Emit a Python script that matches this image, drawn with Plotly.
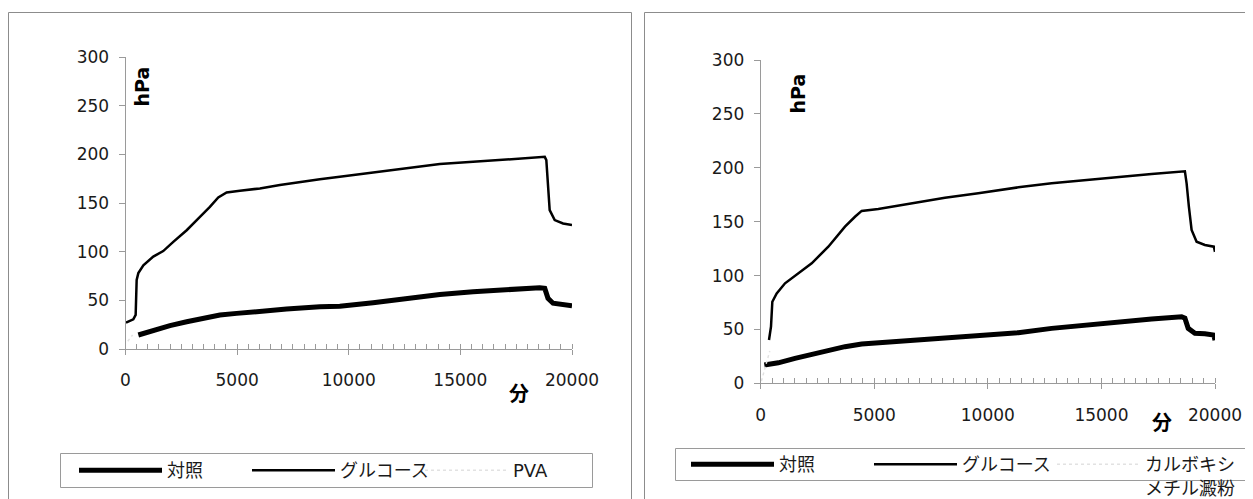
import plotly.graph_objects as go

# The page body has an 8px margin; figure is sized so it fills the 1253x499 window.
OFF = 8
W, H = 1253 - OFF, 499 - OFF


def px(x):
    """reference pixel x -> paper fraction"""
    return (x - OFF) / W


def py(y):
    """reference pixel y (from top) -> paper fraction"""
    return (H - (y - OFF)) / H


# ---------------- data ----------------
x_ticks = [0, 5000, 10000, 15000, 20000]
x_tick_labels = ["0", "5000", "10000", "15000", "20000"]
y_ticks = [0, 50, 100, 150, 200, 250, 300]

# Left panel: PVA
pva_ctrl_t = [575, 1245, 1990, 2740, 3480, 4230, 4980, 5720, 7215, 8705, 9600, 11090,
              12585, 14080, 15570, 17060, 18550, 18780, 18925, 19150, 19600, 20000]
pva_ctrl_v = [14.4, 19.5, 24, 28, 31.5, 35, 36.6, 38.3, 41, 43.5, 44, 47.5,
              52, 56, 58.8, 61.3, 63, 62.3, 52, 47, 45, 44.5]

pva_glu_t = [22, 350, 455, 500, 575, 800, 1245, 1690, 2140, 2740, 3335, 3780, 4155, 4530,
             5125, 6020, 6915, 7810, 8705, 9600, 11090, 12585, 14080, 15570, 17060, 17960,
             18780, 18850, 18925, 19000, 19225, 19600, 20000]
pva_glu_v = [27, 30.5, 35, 71, 78, 86, 95, 100.6, 110, 122, 135.8, 146, 155.7, 160.9,
             162.5, 165, 168.4, 171.8, 174.5, 177, 181.4, 186, 190, 192.3, 194.7, 196.8,
             197.4, 194, 163, 142.7, 132.4, 129, 127.5]

pva_add_t = [100, 200, 320]
pva_add_v = [8, 11, 14.5]

# Right panel: carboxymethyl starch
cms_ctrl_t = [160, 775, 1510, 2245, 2977, 3710, 4445, 5177, 6645, 8112, 9578, 11340, 12808,
              14273, 15740, 17210, 18530, 18675, 18820, 19115, 19555, 19950, 20000]
cms_ctrl_v = [17, 19, 23.2, 27.2, 30.9, 34, 36.5, 37.7, 40.2, 42.7, 44.8, 47, 51,
              54.1, 57.2, 59.7, 61.8, 60.5, 51, 46.4, 46, 44.8, 40]

cms_glu_t = [365, 453, 512, 704, 1070, 1656, 2245, 2977, 3710, 4150, 4445, 5177, 6645, 8112,
             9578, 11340, 12808, 14273, 15740, 17210, 18675, 18750, 18850, 18970, 19190,
             19555, 19950, 20000]
cms_glu_v = [40.2, 52.5, 75.7, 83.5, 92.8, 102, 111.4, 126.8, 145.4, 154.6, 160, 161.8, 167,
             172.3, 176.4, 181.9, 185.6, 188.7, 191.8, 194.3, 196.8, 185.6, 164, 142.3, 131.4,
             128.4, 126.8, 122]

cms_add_t = [30, 200, 400]
cms_add_v = [2, 15, 30]

name_ctrl = "対照"
name_glu = "グルコース"
name_pva = "PVA"
name_cms = "カルボキシ<br>メチル澱粉"

# ---------------- figure ----------------
fig = go.Figure()


def add_panel(xa, ya, leg, ctrl_t, ctrl_v, glu_t, glu_v, add_t, add_v, add_name):
    fig.add_trace(go.Scatter(x=ctrl_t, y=ctrl_v, mode="lines", name=name_ctrl,
                             line=dict(color="#000000", width=5), xaxis=xa, yaxis=ya,
                             legend=leg))
    fig.add_trace(go.Scatter(x=glu_t, y=glu_v, mode="lines", name=name_glu,
                             line=dict(color="#000000", width=2.5), xaxis=xa, yaxis=ya,
                             legend=leg))
    fig.add_trace(go.Scatter(x=add_t, y=add_v, mode="lines", name=add_name,
                             line=dict(color="#e2e2e2", width=1.5, dash="dot"),
                             xaxis=xa, yaxis=ya, legend=leg))


add_panel("x", "y", "legend", pva_ctrl_t, pva_ctrl_v, pva_glu_t, pva_glu_v,
          pva_add_t, pva_add_v, name_pva)
add_panel("x2", "y2", "legend2", cms_ctrl_t, cms_ctrl_v, cms_glu_t, cms_glu_v,
          cms_add_t, cms_add_v, name_cms)

tick_font = dict(family="DejaVu Sans, sans-serif", size=17, color="#1a1a1a")
axis_col = "#9a9a9a"


def xaxis_style(domain, anchor):
    return dict(domain=domain, anchor=anchor, range=[0, 20000], tickvals=x_ticks,
                ticktext=x_tick_labels,
                showline=True, linecolor=axis_col, linewidth=1, ticks="outside",
                ticklen=5, tickcolor=axis_col, tickfont=tick_font, showgrid=False,
                zeroline=False, ticklabelstandoff=11,
                minor=dict(ticks="inside", dtick=500, ticklen=5, tickcolor=axis_col,
                           tickwidth=1, showgrid=False))


def yaxis_style(domain, anchor):
    return dict(domain=domain, anchor=anchor, range=[0, 300], tickvals=y_ticks,
                showline=True, linecolor=axis_col, linewidth=1, ticks="outside",
                ticklen=6, tickcolor=axis_col, tickfont=tick_font, showgrid=False,
                zeroline=False, ticklabelstandoff=6)


legend_font = dict(family="DejaVu Sans, Noto Sans CJK JP, sans-serif", size=18,
                   color="#1a1a1a")

fig.update_layout(
    width=W, height=H, margin=dict(l=0, r=0, t=0, b=0, autoexpand=False),
    paper_bgcolor="white", plot_bgcolor="white",
    xaxis=xaxis_style([px(125.5), px(572)], "y"),
    yaxis=yaxis_style([py(349), py(57)], "x"),
    xaxis2=xaxis_style([px(760.7), px(1215)], "y2"),
    yaxis2=yaxis_style([py(383.3), py(60.1)], "x2"),
    legend=dict(orientation="h", x=px(74), xanchor="left", y=py(452), yanchor="top",
                borderwidth=0, bgcolor="rgba(0,0,0,0)",
                entrywidth=75, entrywidthmode="pixels", itemwidth=83, font=legend_font),
    legend2=dict(orientation="h", x=px(686), xanchor="left", y=py(446), yanchor="top",
                 borderwidth=0, bgcolor="rgba(0,0,0,0)", valign="top",
                 entrywidth=85, entrywidthmode="pixels", itemwidth=83, font=legend_font),
    showlegend=True,
)

frame = dict(color="#8c8c8c", width=1)
# panel frames
fig.add_shape(type="rect", xref="paper", yref="paper", x0=px(8.5), x1=px(631.5),
              y0=-0.1, y1=py(12.5), line=frame, layer="below")
fig.add_shape(type="rect", xref="paper", yref="paper", x0=px(644.5), x1=1.1,
              y0=-0.1, y1=py(12.5), line=frame, layer="below")
# legend boxes
fig.add_shape(type="rect", xref="paper", yref="paper", x0=px(60.5), x1=px(592.5),
              y0=py(487.5), y1=py(453.5), line=dict(color="#9a9a9a", width=1),
              layer="below")
fig.add_shape(type="rect", xref="paper", yref="paper", x0=px(675.5), x1=px(1248.5),
              y0=py(480.5), y1=py(448.5), line=dict(color="#9a9a9a", width=1),
              layer="below")

title_font = dict(family="DejaVu Sans, sans-serif", size=19, color="#000")
cjk_bold = dict(family="Noto Sans CJK JP, sans-serif", size=20, color="#000")

for ax, ay in [(141, 86.5), (797, 93.5)]:
    fig.add_annotation(text="<b>hPa</b>", xref="paper", yref="paper", x=px(ax), y=py(ay),
                       xanchor="center", yanchor="middle", textangle=-90,
                       showarrow=False, font=title_font)
for ax, ay in [(519, 392), (1162, 421)]:
    fig.add_annotation(text="<b>分</b>", xref="paper", yref="paper", x=px(ax), y=py(ay),
                       xanchor="center", yanchor="middle", showarrow=False, font=cjk_bold)

fig.write_html("out.html")
